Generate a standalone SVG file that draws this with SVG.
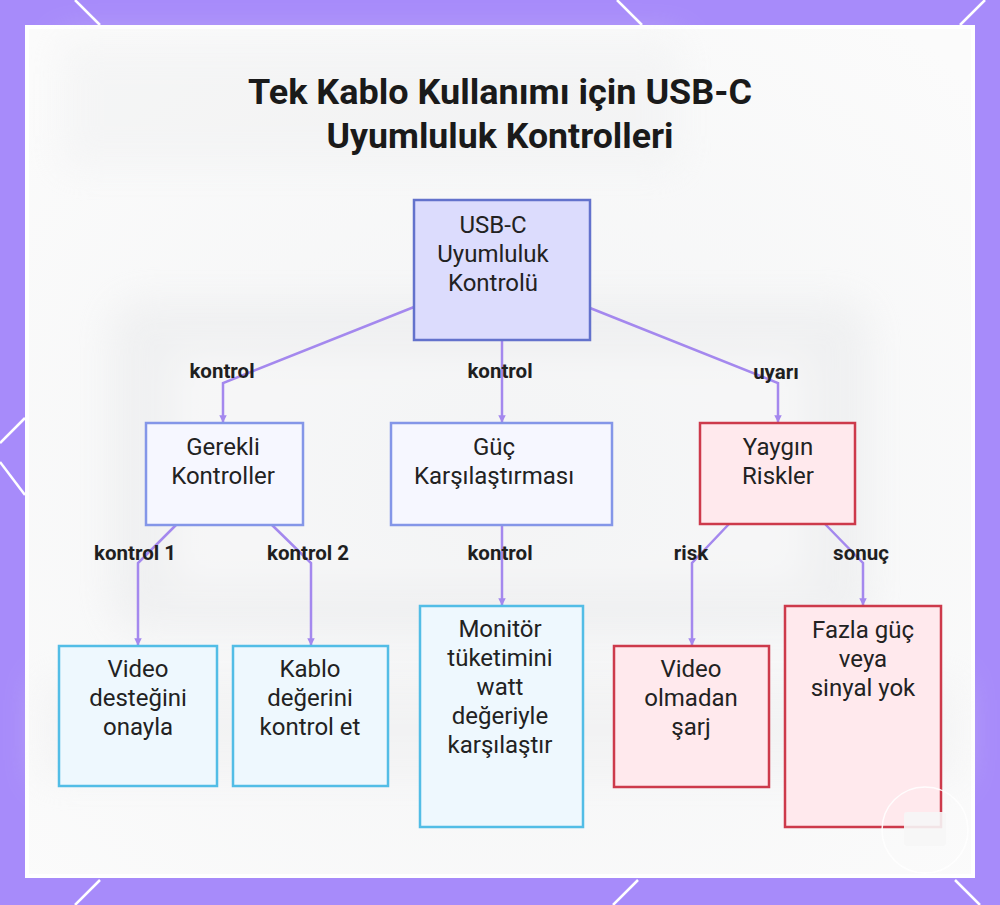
<svg xmlns="http://www.w3.org/2000/svg" width="1000" height="905" viewBox="0 0 1000 905">
  <defs>
    <style>
      .node-text { font-family: Roboto, "Liberation Sans", sans-serif; font-size: 24px; fill: #222222; text-anchor: middle; }
      .edge-label { font-family: Roboto, "Liberation Sans", sans-serif; font-size: 20.5px; font-weight: bold; fill: #1f1f1f; text-anchor: middle; }
      .title { font-family: Roboto, "Liberation Sans", sans-serif; font-size: 35px; font-weight: bold; fill: #1a1a1a; text-anchor: middle; }
      .edge { fill: none; stroke: #a488ee; stroke-width: 2.5; marker-end: url(#arrow); }
      .frame-line { stroke: #ffffff; stroke-width: 2.5; }
      .root { fill: #dcdcfd; stroke: #6372cc; stroke-width: 2.5; }
      .mid { fill: #f6f7ff; stroke: #8496e8; stroke-width: 2.5; }
      .leaf { fill: #eef8fe; stroke: #52bde6; stroke-width: 2.5; }
      .risk { fill: #ffe9ed; stroke: #cd3a4b; stroke-width: 2.5; }
    </style>
    <marker id="arrow" viewBox="0 0 10 10" refX="9" refY="5" markerWidth="3" markerHeight="3" orient="auto">
      <path d="M0,0 L10,5 L0,10 z" fill="#a488ee"/>
    </marker>
    <radialGradient id="bgGrad" cx="0.5" cy="0.55" r="0.7">
      <stop offset="0" stop-color="#f3f4f5"/>
      <stop offset="1" stop-color="#fbfbfb"/>
    </radialGradient>
    <filter id="blur" x="-20%" y="-20%" width="140%" height="140%">
      <feGaussianBlur stdDeviation="18"/>
    </filter>
  </defs>

  <!-- frame -->
  <rect x="0" y="0" width="1000" height="905" fill="#a78bfa"/>
  <g id="frame-lines">
    <line class="frame-line" x1="75" y1="0" x2="100" y2="25"/>
    <line class="frame-line" x1="617" y1="0" x2="642" y2="25"/>
    <line class="frame-line" x1="985" y1="0" x2="960" y2="25"/>
    <line class="frame-line" x1="25" y1="418" x2="0" y2="443"/>
    <line class="frame-line" x1="0" y1="462" x2="25" y2="495"/>
    <line class="frame-line" x1="100" y1="880" x2="75" y2="905"/>
    <line class="frame-line" x1="638" y1="880" x2="613" y2="905"/>
    <line class="frame-line" x1="955" y1="880" x2="980" y2="905"/>
  </g>
  <rect x="25" y="25" width="950" height="853" fill="#ffffff"/>
  <rect x="29" y="29" width="942" height="845" fill="url(#bgGrad)"/>
  <g id="background-blur" filter="url(#blur)" opacity="0.45">
    <rect x="110" y="300" width="760" height="330" rx="30" fill="#e6e7e9"/>
    <rect x="170" y="350" width="640" height="240" rx="20" fill="#f6f6f7"/>
    <rect x="40" y="680" width="920" height="100" fill="#eeeeef"/>
    <rect x="60" y="40" width="620" height="130" fill="#eeeff0"/>
  </g>

  <!-- title -->
  <g id="title">
    <text class="title" x="500" y="104" textLength="504" lengthAdjust="spacingAndGlyphs">Tek Kablo Kullanımı için USB-C</text>
    <text class="title" x="500" y="148" textLength="347" lengthAdjust="spacingAndGlyphs">Uyumluluk Kontrolleri</text>
  </g>

  <!-- connectors -->
  <g id="connectors">
    <polyline class="edge" points="414,307 223,383 223,422"/>
    <polyline class="edge" points="502,340 502,422"/>
    <polyline class="edge" points="590,308 778,383 778,422"/>
    <polyline class="edge" points="176,525 138,563 138,645"/>
    <polyline class="edge" points="272,525 311,563 311,645"/>
    <polyline class="edge" points="502,525 502,605"/>
    <polyline class="edge" points="729,524 692,563 692,645"/>
    <polyline class="edge" points="825,524 863,563 863,605"/>
    <text class="edge-label" x="222" y="378">kontrol</text>
    <text class="edge-label" x="500" y="378">kontrol</text>
    <text class="edge-label" x="776" y="379">uyarı</text>
    <text class="edge-label" x="135" y="560">kontrol 1</text>
    <text class="edge-label" x="308" y="560">kontrol 2</text>
    <text class="edge-label" x="500" y="560">kontrol</text>
    <text class="edge-label" x="691" y="560">risk</text>
    <text class="edge-label" x="861" y="560">sonuç</text>
  </g>

  <!-- nodes -->
  <g id="node-root">
    <rect class="root" x="414" y="200" width="176" height="140"/>
    <text class="node-text" x="493" y="233">USB-C</text>
    <text class="node-text" x="493" y="262">Uyumluluk</text>
    <text class="node-text" x="493" y="291">Kontrolü</text>
  </g>
  <g id="node-gerekli">
    <rect class="mid" x="146" y="423" width="157" height="102"/>
    <text class="node-text" x="223" y="455">Gerekli</text>
    <text class="node-text" x="223" y="484">Kontroller</text>
  </g>
  <g id="node-guc">
    <rect class="mid" x="391" y="423" width="221" height="102"/>
    <text class="node-text" x="494" y="455">Güç</text>
    <text class="node-text" x="494" y="484">Karşılaştırması</text>
  </g>
  <g id="node-risk">
    <rect class="risk" x="700" y="423" width="155" height="101"/>
    <text class="node-text" x="778" y="455">Yaygın</text>
    <text class="node-text" x="778" y="484">Riskler</text>
  </g>
  <g id="node-video">
    <rect class="leaf" x="59" y="646" width="158" height="140"/>
    <text class="node-text" x="138" y="677">Video</text>
    <text class="node-text" x="138" y="706">desteğini</text>
    <text class="node-text" x="138" y="735">onayla</text>
  </g>
  <g id="node-kablo">
    <rect class="leaf" x="233" y="646" width="155" height="140"/>
    <text class="node-text" x="310" y="677">Kablo</text>
    <text class="node-text" x="310" y="706">değerini</text>
    <text class="node-text" x="310" y="735">kontrol et</text>
  </g>
  <g id="node-monitor">
    <rect class="leaf" x="420" y="606" width="163" height="221"/>
    <text class="node-text" x="500" y="637">Monitör</text>
    <text class="node-text" x="500" y="666">tüketimini</text>
    <text class="node-text" x="500" y="695">watt</text>
    <text class="node-text" x="500" y="724">değeriyle</text>
    <text class="node-text" x="500" y="753">karşılaştır</text>
  </g>
  <g id="node-sarj">
    <rect class="risk" x="614" y="646" width="155" height="141"/>
    <text class="node-text" x="691" y="677">Video</text>
    <text class="node-text" x="691" y="706">olmadan</text>
    <text class="node-text" x="691" y="735">şarj</text>
  </g>
  <g id="node-fazla">
    <rect class="risk" x="785" y="606" width="156" height="221"/>
    <text class="node-text" x="863" y="638">Fazla güç</text>
    <text class="node-text" x="863" y="667">veya</text>
    <text class="node-text" x="863" y="696">sinyal yok</text>
  </g>

  <!-- watermark artifact -->
  <g id="watermark" opacity="0.9">
    <circle cx="925" cy="830" r="43" fill="none" stroke="#ffffff" stroke-width="1.5"/>
    <rect x="904" y="812" width="42" height="34" rx="3" fill="#f7f7f7"/>
  </g>
</svg>
